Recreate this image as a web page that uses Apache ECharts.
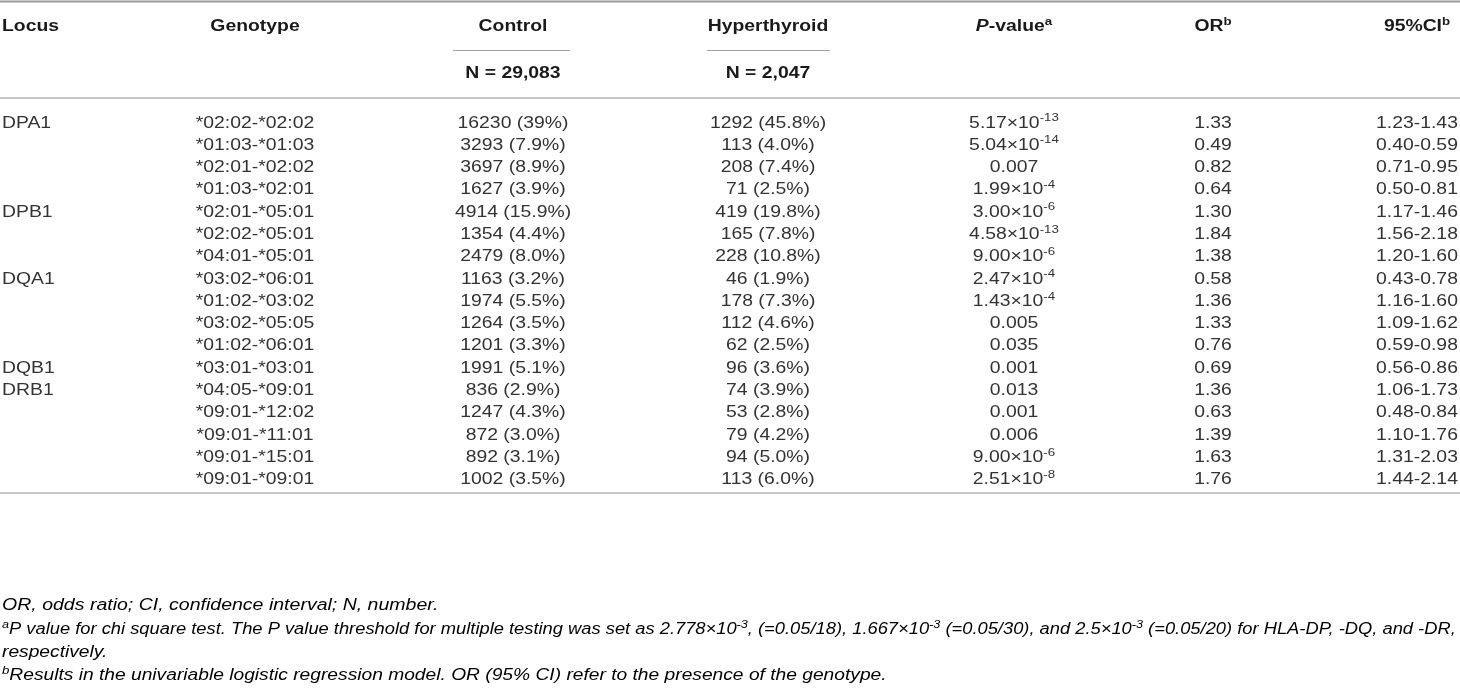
<!DOCTYPE html>
<html><head><meta charset="utf-8">
<script src="https://cdn.jsdelivr.net/npm/echarts@6/dist/echarts.min.js"></script>
<style>html,body{margin:0;padding:0;background:#fff}#c{width:1460px;height:698px}</style>
</head><body><div id="c"></div>
<script>
// ---- data ----
const locus = ['DPA1','','','','DPB1','','','DQA1','','','','DQB1','DRB1','','','',''];
const genotype = ['*02:02-*02:02','*01:03-*01:03','*02:01-*02:02','*01:03-*02:01','*02:01-*05:01','*02:02-*05:01','*04:01-*05:01','*03:02-*06:01','*01:02-*03:02','*03:02-*05:05','*01:02-*06:01','*03:01-*03:01','*04:05-*09:01','*09:01-*12:02','*09:01-*11:01','*09:01-*15:01','*09:01-*09:01'];
const controlN = [16230,3293,3697,1627,4914,1354,2479,1163,1974,1264,1201,1991,836,1247,872,892,1002];
const controlPct = ['39','7.9','8.9','3.9','15.9','4.4','8.0','3.2','5.5','3.5','3.3','5.1','2.9','4.3','3.0','3.1','3.5'];
const hyperN = [1292,113,208,71,419,165,228,46,178,112,62,96,74,53,79,94,113];
const hyperPct = ['45.8','4.0','7.4','2.5','19.8','7.8','10.8','1.9','7.3','4.6','2.5','3.6','3.9','2.8','4.2','5.0','6.0'];
const pMantissa = ['5.17','5.04','0.007','1.99','3.00','4.58','9.00','2.47','1.43','0.005','0.035','0.001','0.013','0.001','0.006','9.00','2.51'];
const pExponent = [-13,-14,null,-4,-6,-13,-6,-4,-4,null,null,null,null,null,null,-6,-8];
const oddsRatio = ['1.33','0.49','0.82','0.64','1.30','1.84','1.38','0.58','1.36','1.33','0.76','0.69','1.36','0.63','1.39','1.63','1.76'];
const ciLow = ['1.23','0.40','0.71','0.50','1.17','1.56','1.20','0.43','1.16','1.09','0.59','0.56','1.06','0.48','1.10','1.31','1.44'];
const ciHigh = ['1.43','0.59','0.95','0.81','1.46','2.18','1.60','0.78','1.60','1.62','0.98','0.86','1.73','0.84','1.76','2.03','2.14'];
const headers = ['Locus','Genotype','Control','Hyperthyroid','P-value','OR','95%CI'];
const headerSup = ['','','','','a','b','b'];
const groupN = ['N = 29,083','N = 2,047'];
const footnotes = [
  'OR, odds ratio; CI, confidence interval; N, number.',
  'P value for chi square test. The P value threshold for multiple testing was set as ',
  'respectively.',
  'Results in the univariable logistic regression model. OR (95% CI) refer to the presence of the genotype.'
];

// ---- layout / style ----
const W = 1460;
const colX = [2, 255, 513, 768, 1014, 1213, 1417];
const colAlign = ['left','center','center','center','center','center','center'];
const FONT = '"Liberation Sans", Arial, Helvetica, sans-serif';
const TXT = '#333333';
const HDR = '#1a1a1a';
const FS = 16;
const SX = 1.21;
const rowIdx = genotype.map((_, i) => i);

const cellText = [
  i => locus[i],
  i => genotype[i],
  i => controlN[i] + ' (' + controlPct[i] + '%)',
  i => hyperN[i] + ' (' + hyperPct[i] + '%)',
  i => pExponent[i] === null ? '{n|' + pMantissa[i] + '}' : '{n|' + pMantissa[i] + '×10}{s|' + pExponent[i] + '}',
  i => oddsRatio[i],
  i => ciLow[i] + '-' + ciHigh[i]
];

const rich = {
  n: {fontSize: FS, fontFamily: FONT, color: TXT, lineHeight: 18},
  s: {fontSize: 11, fontFamily: FONT, color: TXT, lineHeight: 18, padding: [0,0,10,0]}
};

const series = colX.map((cx, c) => ({
  type: 'custom',
  coordinateSystem: 'cartesian2d',
  data: rowIdx.map(i => [cx, i]),
  renderItem: (params, api) => {
    const p = api.coord([api.value(0), api.value(1)]);
    const i = params.dataIndex;
    return {
      type: 'text',
      x: p[0], y: p[1], scaleX: SX,
      style: {
        text: cellText[c](i), x: 0, y: 0,
        align: colAlign[c], verticalAlign: 'middle',
        fontSize: FS, fontFamily: FONT, fill: TXT,
        rich: rich
      }
    };
  },
  silent: true, animation: false
}));

// header graphics
const hr = {
  b: {fontSize: FS, fontFamily: FONT, fontWeight: 'bold', color: HDR, lineHeight: 18},
  bi: {fontSize: FS, fontFamily: FONT, fontWeight: 'bold', fontStyle: 'italic', color: HDR, lineHeight: 18},
  sup: {fontSize: 11, fontFamily: FONT, fontWeight: 'bold', color: HDR, lineHeight: 18, padding: [0,0,10,0]}
};
const graphic = [];
headers.forEach((h, c) => {
  let text = h === 'P-value' ? '{bi|P}{b|-value}' : '{b|' + h + '}';
  if (headerSup[c]) text += '{sup|' + headerSup[c] + '}';
  graphic.push({type: 'text', x: colX[c], y: 27, scaleX: SX, silent: true,
    style: {text: text, x: 0, y: 0, align: colAlign[c], verticalAlign: 'middle', fontSize: FS, fontFamily: FONT, fontWeight: 'bold', fill: HDR, rich: hr}});
});
[2, 3].forEach((c, k) => graphic.push({type: 'text', x: colX[c], y: 74, scaleX: SX, silent: true,
  style: {text: groupN[k], x: 0, y: 0, align: 'center', verticalAlign: 'middle', fontSize: FS, fontFamily: FONT, fontWeight: 'bold', fill: HDR}}));

// rules
const line = (x1, y, x2, w, col) => ({type: 'line', shape: {x1: x1, y1: y, x2: x2, y2: y}, style: {stroke: col, lineWidth: w}, silent: true});
graphic.push(line(0, 1.5, W, 2, '#9a9a9a'));
graphic.push(line(453, 50.5, 570, 1.2, '#a0a0a0'));
graphic.push(line(707, 50.5, 830, 1.2, '#a0a0a0'));
graphic.push(line(0, 98, W, 1.5, '#b5b5b5'));
graphic.push(line(0, 493, W, 1.5, '#b5b5b5'));

// footnotes
const FFS = 16;
const fr = {
  t: {fontSize: FFS, fontFamily: FONT, fontStyle: 'italic', color: TXT, lineHeight: 18},
  s: {fontSize: 11, fontFamily: FONT, fontStyle: 'italic', color: TXT, lineHeight: 18, padding: [0,0,10,0]}
};
const fnLines = [
  '{t|' + footnotes[0] + '}',
  '{s|a}{t|' + footnotes[1] + '2.778×10}{s|-3}{t|, (=0.05/18), 1.667×10}{s|-3}{t| (=0.05/30), and 2.5×10}{s|-3}{t| (=0.05/20) for HLA-DP, -DQ, and -DR,}',
  '{t|' + footnotes[2] + '}',
  '{s|b}{t|' + footnotes[3] + '}'
];
const fnY = [606, 630, 653, 676];
const fnScale = [1.22, 1.145, 1.2, 1.2];
fnLines.forEach((t, k) => graphic.push({type: 'text', x: 2, y: fnY[k], scaleX: fnScale[k], silent: true,
  style: {text: t, x: 0, y: 0, rich: fr, verticalAlign: 'middle', fontFamily: FONT, fontSize: FFS}}));

const chart = echarts.init(document.getElementById('c'), null, {renderer: 'canvas'});
chart.setOption({
  animation: false,
  backgroundColor: '#fff',
  grid: {left: 0, right: 0, top: 112, bottom: 207, containLabel: false},
  xAxis: {type: 'value', min: 0, max: W, show: false},
  yAxis: {type: 'category', data: rowIdx, inverse: true, show: false},
  series: series,
  graphic: graphic
});
</script></body></html>
